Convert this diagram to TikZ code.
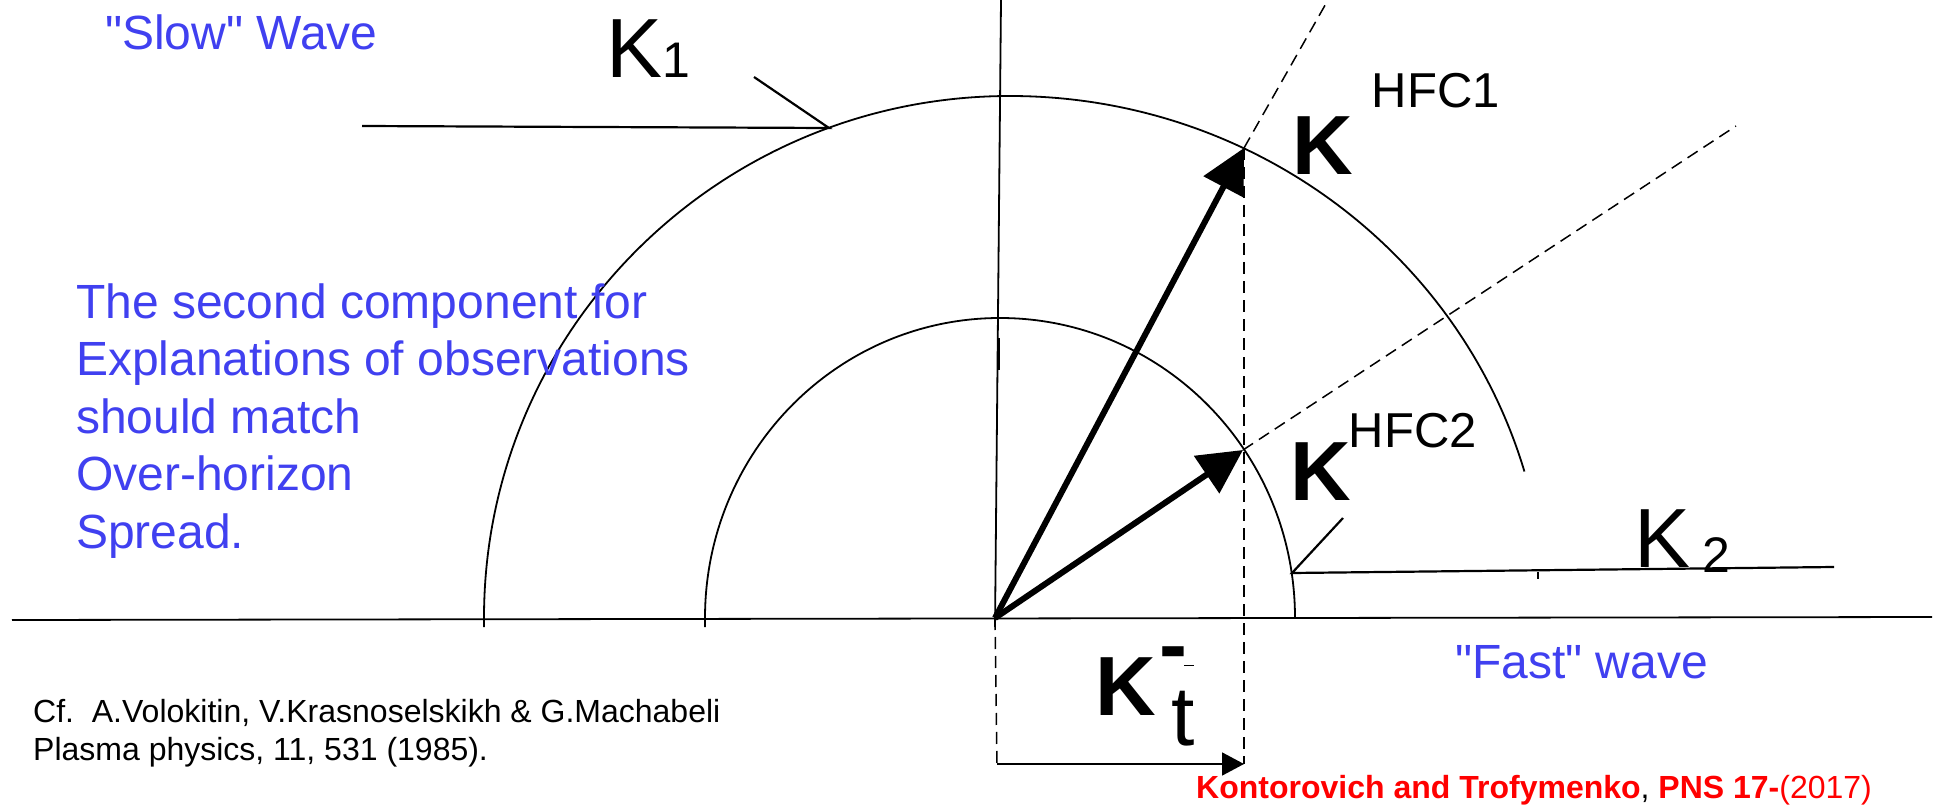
\documentclass[tikz,border=0pt]{standalone}
\usepackage{fontspec}
\setmainfont{Liberation Sans}
\usetikzlibrary{arrows.meta}
\definecolor{ink}{HTML}{000000}
\definecolor{wave}{HTML}{4040F0}
\definecolor{citered}{HTML}{FF0000}

\begin{document}
\begin{tikzpicture}[
      x=1pt, y=-1pt,
      arcline/.style={line width=1.8pt, color=ink},
      pointer/.style={line width=2.2pt, color=ink},
      vecarrow/.style={line width=6pt, color=ink, -{Triangle[length=44pt,width=44pt]}},
      guide/.style={line width=1.5pt, color=ink, dash pattern=on 12pt off 7pt},
      biglabel/.style={inner sep=0pt, anchor=base west, font=\fontsize{84}{84}\selectfont},
      wavetext/.style={inner sep=0pt, anchor=base west, text=wave, font=\fontsize{48}{48}\selectfont},
      reftext/.style={inner sep=0pt, anchor=base west, align=left, font=\fontsize{32}{38}\selectfont},
    ]
      \fill[white] (0,0) rectangle (1936,805);
      \useasboundingbox (0,0) rectangle (1936,805);

      \coordinate (orig) at (995,618);
      \coordinate (tipOne) at (1244,148);
      \coordinate (tipTwo) at (1243,450);
      \coordinate (dashOne) at (1328,0);
      \coordinate (dashTwo) at (1736,126);
      \coordinate (axisTop) at (1001,0);
      \coordinate (axisBot) at (995,627);
      \coordinate (baseL) at (12,620);
      \coordinate (baseR) at (1932,617);
      \coordinate (projBot) at (1244,764);
      \coordinate (origBot) at (997,764);
      \coordinate (kOneArc) at (829,128);
      \coordinate (kOneEnd) at (362,126);
      \coordinate (kOneTick) at (754,77);
      \coordinate (kTwoArc) at (1292,573);
      \coordinate (kTwoEnd) at (1834,567);
      \coordinate (kTwoTick) at (1343,518);

      % axes
      \draw[arcline] (baseL) -- (baseR);
      \draw[arcline] (axisTop) -- (axisBot);
      \draw[line width=3pt] (998,338) -- (998,370);

      % slow and fast wave branches
      \draw[arcline] (484,627) -- (484,618)
        arc[start angle=180, end angle=270, x radius=526, y radius=522]
        arc[start angle=270, end angle=343.7, x radius=536, y radius=522];
      \draw[arcline] (705,627) -- (705,618)
        arc[start angle=180, end angle=360, x radius=295, y radius=300];

      % pointers to K1 and K2
      \draw[pointer] (kOneEnd) -- (kOneArc) -- (kOneTick);
      \draw[pointer] (kTwoEnd) -- (kTwoArc) -- (kTwoTick);
      \draw[arcline] (1538,572) -- (1538,579);

      % dashed guides
      \draw[guide] (tipOne) -- (dashOne);
      \draw[guide] (tipTwo) -- (dashTwo);
      \draw[guide] (tipOne) -- (projBot);
      \draw[guide] (orig) -- (origBot);
      \draw[arcline, -{Triangle[length=22pt,width=23pt]}] (origBot) -- (projBot);

      % wave vectors
      \draw[vecarrow] (orig) -- (tipOne);
      \draw[vecarrow] (orig) -- (tipTwo);

      \node[biglabel] (kone) at (606,78) {K\fontsize{50}{50}\selectfont 1};
      \node[biglabel] (ktwo) at (1634,567) {K\hspace{12pt}\raisebox{-5pt}{\fontsize{50}{50}\selectfont 2}};
      \node[biglabel] (khfcone) at (1292,175) {\textbf{K}\hspace{19pt}\raisebox{67pt}{\fontsize{49}{49}\selectfont HFC1}};
      \node[biglabel] (khfctwo) at (1290,500) {\textbf{K}\hspace{-2pt}\raisebox{53pt}{\fontsize{49}{49}\selectfont HFC2}};
      \node[biglabel] (kt) at (1095,715) {\textbf{K}\kern4pt\raisebox{41.5pt}{\textbf{-}}\kern-16.5pt\raisebox{-30pt}{t}};
      \draw[line width=1pt] (1184,665) -- (1194,665);

      \node[wavetext] (slow) at (105,50) {\textquotedbl Slow\textquotedbl{} Wave};
      \node[wavetext] (fast) at (1455,678) {\textquotedbl Fast\textquotedbl{} wave};
      \node[wavetext, align=left, font=\fontsize{48}{57.5}\selectfont] (explain) at (76,548)
        {The second component for\\Explanations of observations\\should match\\Over-horizon\\Spread.};

      \node[reftext] (cite) at (33,760) {Cf.\ \ A.Volokitin, V.Krasnoselskikh \& G.Machabeli\\Plasma physics, 11, 531 (1985).};
      \node[reftext, font=\fontsize{32}{32}\selectfont] (source) at (1196,798)
        {\textcolor{citered}{\textbf{Kontorovich and Trofymenko}}, \textcolor{citered}{\textbf{PNS 17-}(2017)}};
    \end{tikzpicture}
\end{document}
